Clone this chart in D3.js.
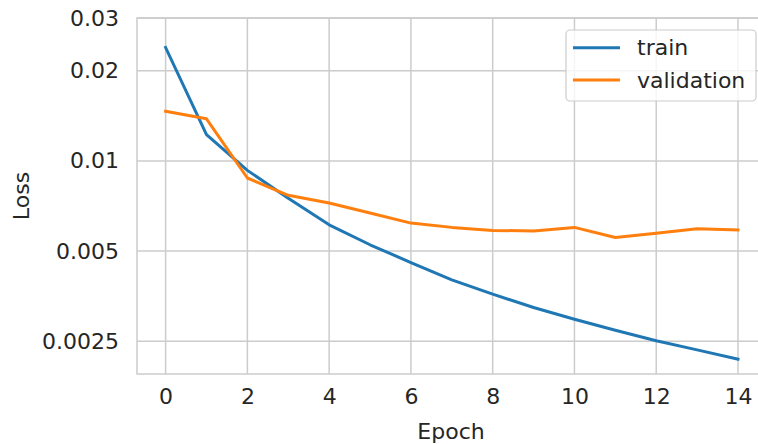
<!DOCTYPE html>
<html>
<head>
<meta charset="utf-8">
<script src="https://cdn.jsdelivr.net/npm/d3@7"></script>
<style>
  html, body { margin: 0; padding: 0; background: #fff; }
  svg { display: block; }
  text { font-family: "DejaVu Sans", sans-serif; fill: #262626; }
</style>
</head>
<body>
<div id="chart"></div>
<script>
const epochs = [0,1,2,3,4,5,6,7,8,9,10,11,12,13,14];
const trainLoss = [0.0239,0.01225,0.0093,0.0075,0.00612,0.00525,0.00458,0.00401,0.00359,0.00324,0.00296,0.00272,0.00251,0.00234,0.00218];
const valLoss = [0.01465,0.01382,0.00877,0.00768,0.00724,0.0067,0.0062,0.0060,0.00586,0.00584,0.0060,0.00555,0.00574,0.00594,0.00588];
const xTicks = [0,2,4,6,8,10,12,14];
const yTicks = [0.0025,0.005,0.01,0.02,0.03];
const yTickLabels = ["0.0025","0.005","0.01","0.02","0.03"];
const seriesNames = ["train","validation"];
const colors = ["#1f77b4","#ff7f0e"];

const W = 758, H = 444;
const plot = {left: 137, top: 18, right: 766.6, bottom: 374};

const svg = d3.select("#chart").append("svg").attr("width", W).attr("height", H);

const x = d3.scaleLinear().domain([-0.7, 14.7]).range([plot.left, plot.right]);
const y = d3.scaleLog().domain([0.001944, 0.03]).range([plot.bottom, plot.top]);

// grid
const grid = svg.append("g");
grid.selectAll("line.gx").data(xTicks).join("line")
  .attr("x1", d => x(d)).attr("x2", d => x(d))
  .attr("y1", plot.top).attr("y2", plot.bottom)
  .attr("stroke", "#cccccc").attr("stroke-width", 1.5);
grid.selectAll("line.gy").data(yTicks).join("line")
  .attr("x1", plot.left).attr("x2", plot.right)
  .attr("y1", d => y(d)).attr("y2", d => y(d))
  .attr("stroke", "#cccccc").attr("stroke-width", 1.5);

// axes (labels only)
const xAxis = d3.axisBottom(x).tickValues(xTicks).tickSize(0).tickPadding(14).tickFormat(d3.format("d"));
const gx = svg.append("g").attr("transform", `translate(0,${plot.bottom})`).call(xAxis);
gx.select(".domain").remove();
gx.selectAll("text").style("font-size", "22px").style("font-family", "DejaVu Sans").attr("fill", "#262626");

const yAxis = d3.axisLeft(y).tickValues(yTicks).tickSize(0).tickPadding(18)
  .tickFormat((d, i) => yTickLabels[yTicks.indexOf(d)]);
const gy = svg.append("g").attr("transform", `translate(${plot.left},0)`).call(yAxis);
gy.select(".domain").remove();
gy.selectAll("text").style("font-size", "22px").style("font-family", "DejaVu Sans").attr("fill", "#262626");

// spines
svg.append("rect")
  .attr("x", plot.left).attr("y", plot.top)
  .attr("width", plot.right - plot.left).attr("height", plot.bottom - plot.top)
  .attr("fill", "none").attr("stroke", "#cccccc").attr("stroke-width", 1.5);

// lines
const line = d3.line().x((d, i) => x(epochs[i])).y(d => y(d));
[trainLoss, valLoss].forEach((s, k) => {
  svg.append("path").datum(s)
    .attr("d", line)
    .attr("fill", "none")
    .attr("stroke", colors[k])
    .attr("stroke-width", 3)
    .attr("stroke-linejoin", "round")
    .attr("stroke-linecap", "square");
});

// axis titles
svg.append("text").attr("x", (plot.left + 766.6) / 2 - 0).attr("y", 439)
  .attr("text-anchor", "middle").style("font-size", "22px").text("Epoch")
  .attr("x", 451);
svg.append("text").attr("transform", "translate(29,196) rotate(-90)")
  .attr("text-anchor", "middle").style("font-size", "22px").text("Loss");

// legend
const lg = svg.append("g");
lg.append("rect").attr("x", 566).attr("y", 30).attr("width", 190).attr("height", 71)
  .attr("rx", 4).attr("fill", "#ffffff").attr("fill-opacity", 0.8)
  .attr("stroke", "#cccccc").attr("stroke-width", 1.2);
seriesNames.forEach((n, i) => {
  const yy = 47.7 + i * 32.3;
  lg.append("line").attr("x1", 573).attr("x2", 620).attr("y1", yy).attr("y2", yy)
    .attr("stroke", colors[i]).attr("stroke-width", 3);
  lg.append("text").attr("x", 637).attr("y", yy).attr("dy", "0.35em")
    .style("font-size", "22px").text(n);
});
</script>
</body>
</html>
